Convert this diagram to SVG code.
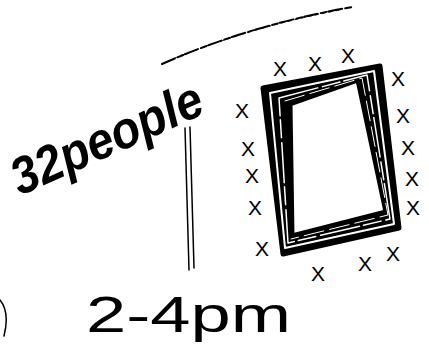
<svg xmlns="http://www.w3.org/2000/svg" width="429" height="349" viewBox="0 0 429 349">
<style>
.ink{fill:none;stroke:#000;stroke-linecap:round;stroke-linejoin:round}
.gap{fill:none;stroke:#fff;stroke-linecap:round;stroke-linejoin:round}
.hand{font-family:"Liberation Sans",Arial,sans-serif;fill:#000}
.x{font-family:"Liberation Sans",Arial,sans-serif;font-size:21px;fill:#000;text-anchor:middle}
</style>
<rect width="429" height="349" fill="#fff"/>
<g id="curve">
<path class="ink" d="M162 64 Q250 25 352 7" stroke-width="2" stroke-dasharray="14 3 6 2"/>
<path class="ink" d="M175 58 Q255 26 340 10" stroke-width="1" stroke-dasharray="3 4"/>
</g>
<g id="label-people">
<text class="hand" x="20" y="196" font-size="52" font-style="italic" font-weight="bold" transform="rotate(-24 20 196)" textLength="205" lengthAdjust="spacingAndGlyphs">32people</text>
</g>
<g id="pole">
<path class="ink" d="M185 128 L189 270" stroke-width="1.5"/>
<path class="ink" d="M190 127 L194 268" stroke-width="1.5"/>
</g>
<g id="frame">
<path d="M263 88 L380 66 L399 228 L283 254 Z M290 104 L358 80 L386 212 L292 236 Z" fill="#000" fill-rule="evenodd" stroke="#000" stroke-width="5" stroke-linejoin="round"/>
<path class="gap" d="M270 93 L374 71 L394 224 L285 248 Z" stroke-width="2"/>
<path class="gap" d="M279 98 L367 75 L390 219 L288 243 Z" stroke-width="1.5" stroke-dasharray="40 5 18 4"/>
<path class="gap" d="M285 101 L362 78 L388 215 L291 239" stroke-width="1" stroke-dasharray="20 6"/>
</g>
<g id="people">
<text class="x" x="280" y="76">X</text>
<text class="x" x="315" y="71">X</text>
<text class="x" x="348" y="63">X</text>
<text class="x" x="398" y="86">X</text>
<text class="x" x="403" y="123">X</text>
<text class="x" x="408" y="155">X</text>
<text class="x" x="412" y="186">X</text>
<text class="x" x="413" y="215">X</text>
<text class="x" x="242" y="118">X</text>
<text class="x" x="248" y="156">X</text>
<text class="x" x="252" y="183">X</text>
<text class="x" x="255" y="215">X</text>
<text class="x" x="262" y="256">X</text>
<text class="x" x="318" y="281">X</text>
<text class="x" x="365" y="271">X</text>
<text class="x" x="393" y="261">X</text>
</g>
<g id="label-time">
<text class="hand" x="86" y="332" font-size="50" textLength="205" lengthAdjust="spacingAndGlyphs">2-4pm</text>
</g>
<g id="edge-mark">
<path class="ink" d="M0 300 Q10 312 4 336" stroke-width="1.5"/>
</g>
</svg>
